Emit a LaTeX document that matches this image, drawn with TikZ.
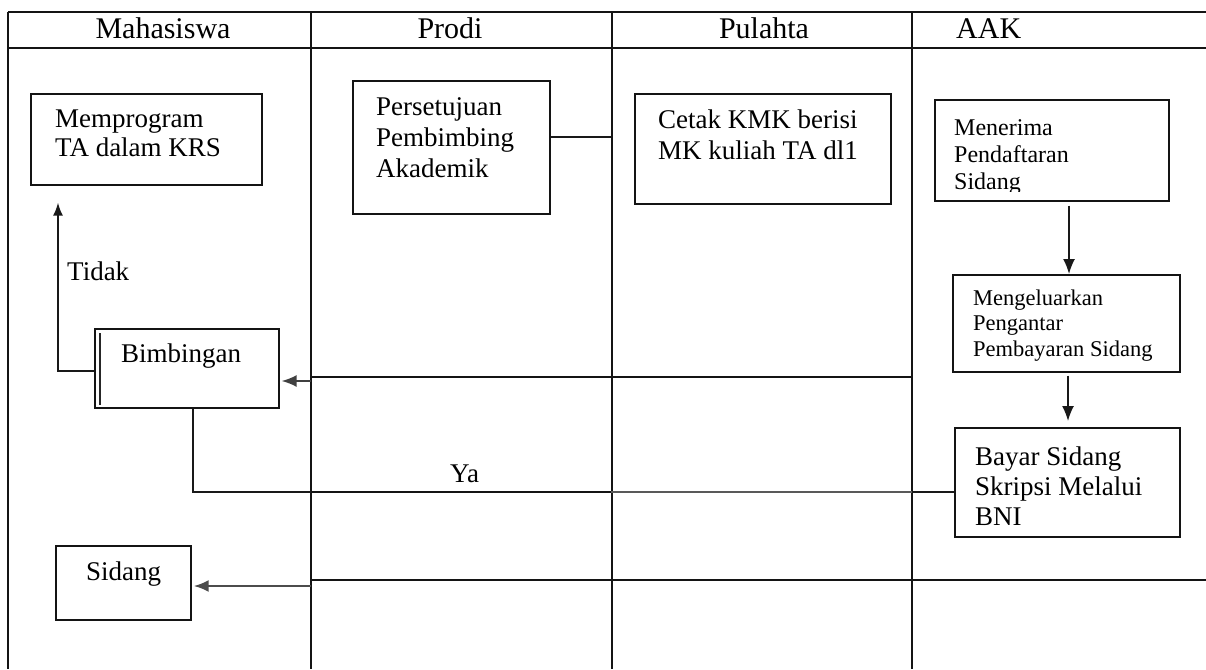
\documentclass[tikz,border=0pt]{standalone}
\usepackage{fontspec}
\setmainfont{Liberation Serif}
\usetikzlibrary{arrows.meta,calc}
\begin{document}
\begin{tikzpicture}[x=1pt,y=-1pt,
  grid/.style={line width=2pt, draw=black!92},
  box/.style={draw=black!92, line width=1.7pt, rectangle, inner sep=0pt, anchor=north west},
  txt/.style={inner sep=0pt, anchor=north west, align=left, font=\fontsize{27}{30}\selectfont},
  lbl/.style={inner sep=0pt, anchor=base west, font=\fontsize{27}{30}\selectfont},
  hdr/.style={inner sep=0pt, anchor=base, font=\fontsize{30}{36}\selectfont},
  conn/.style={line width=1.6pt, draw=black!90},
  boldconn/.style={line width=2.8pt, draw=black!92},
  arr/.style={conn, -{Latex[length=15pt,width=12pt]}},
  smallarr/.style={conn, -{Latex[length=13pt,width=10pt]}}
]
\fill[white] (0,0) rectangle (1206,669);
\useasboundingbox (0,0) rectangle (1206,669);

% table grid
\draw[grid] (8,12) -- (1206,12);
\draw[grid] (8,48) -- (1206,48);
\draw[grid] (8,12) -- (8,669);
\foreach \x in {311,612,912} \draw[grid] (\x,12) -- (\x,669);

% headers
\node[hdr] (hMah) at (163,38) {Mahasiswa};
\node[hdr] (hPro) at (450,38) {Prodi};
\node[hdr] (hPul) at (764,38) {Pulahta};
\node[hdr, anchor=base west] (hAAK) at (956,38) {AAK};

% boxes
\node[box, minimum width=231pt, minimum height=91pt] (mem) at (30,93) {};
\node[box, minimum width=197pt, minimum height=133pt] (pers) at (352,80) {};
\node[box, minimum width=256pt, minimum height=110pt] (cetak) at (634,93) {};
\node[box, minimum width=234pt, minimum height=101pt] (mener) at (934,99) {};
\node[box, minimum width=227pt, minimum height=97pt] (mengel) at (952,274) {};
\node[box, minimum width=225pt, minimum height=109pt] (bayar) at (954,427) {};
\node[box, minimum width=184pt, minimum height=79pt] (bim) at (94,328) {};
\node[box, minimum width=135pt, minimum height=74pt] (sid) at (55,545) {};
\draw[draw=black!85, line width=1.5pt] ($(bim.north west)+(6,5)$) -- ($(bim.south west)+(6,-4)$);

% texts
\node[txt, font=\fontsize{27}{29}\selectfont] (memT) at (55,106.7) {\strut Memprogram\\TA dalam KRS};
\node[txt, font=\fontsize{27}{31}\selectfont] (persT) at (376,93.3) {\strut Persetujuan\\Pembimbing\\Akademik};
\node[txt, font=\fontsize{27}{31}\selectfont] (cetakT) at (658,106.3) {\strut Cetak KMK berisi\\MK kuliah TA dl1};
\begin{scope}
\clip (934,99) rectangle (1168,191);
\node[txt, font=\fontsize{24}{27}\selectfont] (menerT) at (954,116.1) {\strut Menerima\\Pendaftaran\\Sidang};
\end{scope}
\node[txt, font=\fontsize{22.5}{25.5}\selectfont] (mengelT) at (973,287.15) {\strut Mengeluarkan\\Pengantar\\Pembayaran Sidang};
\node[txt, font=\fontsize{27}{30}\selectfont] (bayarT) at (975,444) {\strut Bayar Sidang\\Skripsi Melalui\\BNI};
\node[lbl] (bimT) at (121,362) {Bimbingan};
\node[lbl] (sidT) at (86,580) {Sidang};
\node[lbl] (tidakT) at (67,280) {Tidak};
\node[lbl] (yaT) at (450,482) {Ya};

% connectors
\coordinate (pc) at (611,137);
\draw[conn] (pers.east |- pc) -- (pc);

\coordinate (ax1) at (1069,0);
\draw[arr, shorten <=4pt] (mener.south -| ax1) -- (mengel.north -| ax1);
\coordinate (ax2) at (1068,0);
\draw[arr, shorten <=3pt, shorten >=6pt] (mengel.south -| ax2) -- (bayar.north -| ax2);

\coordinate (r1) at (912,377);
\coordinate (r1b) at (311,377);
\draw[boldconn] (r1) -- (r1b);
\coordinate (r1c) at (311,381);
\draw[arr, draw=black!75, shorten >=2pt] (r1c) -- (bim.east |- r1c);

\coordinate (ya) at (0,492);
\coordinate (yx) at (193,0);
\draw[conn] (bayar.west |- ya) -| (bim.south -| yx);
\coordinate (ya1) at (311,492);
\coordinate (ya2) at (611,492);
\coordinate (ya3) at (912,492);
\draw[boldconn] (ya1) -- (ya2);
\draw[line width=2.2pt, draw=black!65] (ya2) -- (ya3);

\coordinate (tk) at (0,371);
\coordinate (tx) at (58,0);
\draw[smallarr, shorten >=17pt] (bim.west |- tk) -| (mem.south -| tx);

\coordinate (s1) at (1206,580);
\coordinate (s2) at (311,580);
\draw[boldconn] (s1) -- (s2);
\coordinate (sc) at (311,586);
\draw[arr, line width=2.4pt, draw=black!70, shorten >=2pt] (sc) -- (sid.east |- sc);
\end{tikzpicture}
\end{document}
